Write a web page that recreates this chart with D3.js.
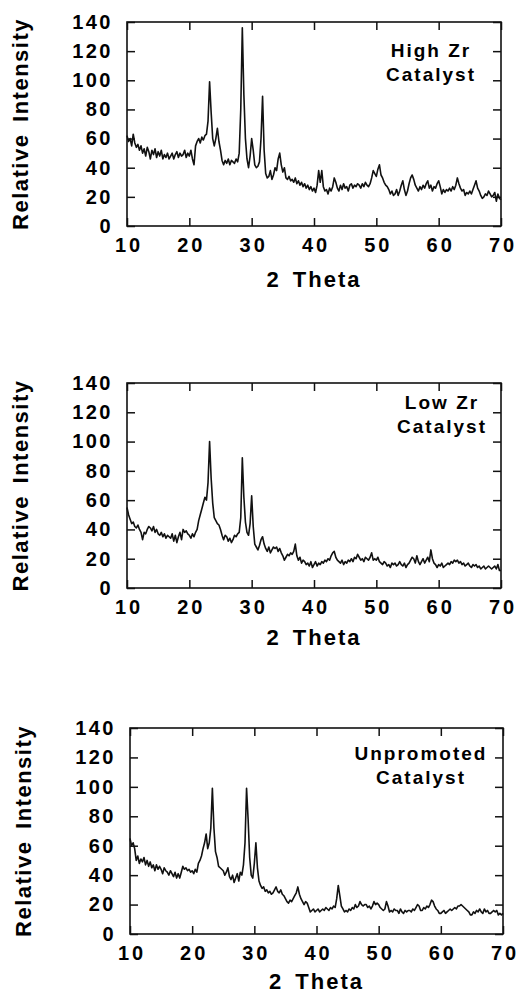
<!DOCTYPE html>
<html>
<head>
<meta charset="utf-8">
<script src="https://cdn.jsdelivr.net/npm/d3@7"></script>
<style>
  body { margin: 0; background: #fff; }
  svg { display: block; }
  text { font-family: "Liberation Sans", Arial, Helvetica, sans-serif; font-weight: bold; fill: #000; }
</style>
</head>
<body>
<svg id="chart" width="518" height="996"></svg>
<script>
// XRD intensities, read every 0.25 deg from 10 to 70 (2 theta)
const highZr = [
  62, 58, 60, 55,  63, 57, 54, 56,  52, 55, 50, 53,  48, 54, 51, 46,
  52, 49, 53, 47,  51, 48, 52, 46,  49, 47, 50, 46,  48, 50, 46, 49,
  51, 47, 50, 48,  49, 52, 47, 50,  48, 52, 46, 42,  55, 58, 60, 57,
  61, 59, 62, 63,  72, 99, 78, 60,  55, 60, 67, 58,  52, 45, 42, 45,
  43, 46, 42, 45,  44, 43, 46, 44,  50, 80, 136, 90, 60, 46, 40, 48,
  60, 52, 42, 40,  41, 44, 60, 89,  52, 36, 33, 34,  38, 32, 35, 40,
  38, 46, 50, 42,  37, 40, 33, 32,  34, 31, 32, 30,  33, 29, 31, 28,
  30, 27, 29, 26,  28, 25, 27, 24,  26, 23, 28, 38,  30, 38, 27, 24,
  25, 22, 26, 24,  27, 33, 30, 26,  24, 28, 25, 29,  26, 27, 24, 28,
  29, 26, 28, 27,  29, 28, 26, 29,  27, 30, 28, 27,  29, 33, 38, 36,
  34, 39, 42, 35,  33, 30, 28, 27,  25, 22, 24, 21,  22, 25, 21, 24,
  28, 31, 25, 21,  24, 29, 33, 35,  32, 28, 26, 24,  27, 25, 28, 26,
  29, 31, 26, 28,  24, 27, 26, 29,  31, 27, 22, 25,  23, 25, 24, 26,
  24, 27, 25, 28,  33, 29, 26, 24,  25, 21, 23, 22,  24, 22, 25, 28,
  31, 26, 24, 21,  19, 20, 22, 21,  24, 22, 20, 21,  23, 17, 22, 19,
  18
];
const lowZr = [
  55, 50, 47, 44,  45, 42, 41, 43,  40, 38, 33, 38,  37, 40, 42, 41,
  39, 42, 38, 40,  37, 36, 38, 35,  37, 34, 36, 35,  34, 37, 32, 36,
  31, 35, 38, 33,  40, 38, 39, 37,  36, 34, 37, 35,  38, 40, 46, 50,
  54, 58, 62, 60,  72, 100, 75, 58, 48, 46, 44, 43,  40, 36, 33, 36,
  35, 32, 34, 31,  33, 36, 35, 37,  38, 48, 89, 62,  45, 38, 36, 44,
  63, 42, 30, 28,  26, 29, 33, 35,  30, 27, 25, 28,  24, 26, 28, 27,
  28, 25, 27, 24,  22, 19, 21, 23,  22, 24, 23, 25,  30, 22, 19, 21,
  17, 19, 18, 16,  17, 15, 18, 14,  16, 18, 15, 17,  16, 18, 17, 19,
  18, 20, 19, 22,  24, 25, 21, 19,  18, 17, 19, 16,  18, 17, 19, 18,
  20, 18, 21, 20,  23, 21, 19, 20,  18, 21, 20, 19,  21, 24, 19, 20,
  19, 21, 18, 17,  16, 18, 17, 15,  16, 14, 17, 16,  17, 15, 16, 18,
  16, 15, 17, 14,  16, 17, 19, 21,  20, 17, 22, 18,  16, 18, 20, 17,
  19, 21, 18, 26,  20, 17, 16, 14,  16, 15, 17, 14,  15, 16, 17, 16,
  18, 17, 19, 18,  19, 17, 18, 16,  17, 15, 16, 17,  15, 14, 16, 15,
  16, 14, 15, 13,  14, 15, 13, 14,  15, 14, 13, 14,  15, 13, 16, 12,
  12
];
const unpromoted = [
  65, 60, 62, 58,  50, 53, 48, 51,  49, 52, 47, 50,  46, 49, 45, 47,
  43, 47, 44, 46,  44, 41, 45, 43,  42, 40, 43, 41,  39, 42, 38, 41,
  38, 42, 46, 44,  45, 43, 44, 42,  43, 41, 44, 42,  48, 50, 53, 58,
  62, 68, 58, 62,  72, 99, 72, 56,  52, 46, 45, 44,  43, 40, 42, 45,
  39, 37, 40, 35,  38, 41, 36, 42,  40, 47, 62, 99,  78, 52, 40, 38,
  48, 62, 45, 36,  33, 31, 32, 29,  30, 28, 29, 27,  28, 30, 32, 29,
  28, 30, 27, 26,  24, 22, 21, 23,  22, 24, 26, 28,  32, 27, 24, 22,
  20, 22, 21, 18,  15, 16, 17, 15,  16, 17, 15, 16,  17, 16, 18, 17,
  16, 18, 17, 19,  18, 24, 33, 26,  19, 17, 15, 16,  15, 17, 16, 18,
  17, 20, 18, 19,  22, 20, 19, 20,  20, 18, 19, 17,  19, 22, 20, 21,
  20, 18, 17, 16,  17, 22, 19, 15,  16, 15, 17, 16,  16, 14, 17, 15,
  14, 16, 15, 16,  16, 15, 17, 16,  18, 20, 19, 16,  16, 18, 17, 19,
  18, 20, 23, 22,  19, 17, 16, 14,  14, 15, 16, 14,  15, 16, 17, 16,
  17, 18, 17, 19,  19, 20, 19, 18,  17, 16, 15, 13,  13, 15, 14, 16,
  15, 17, 15, 14,  17, 15, 16, 14,  14, 15, 16, 15,  16, 13, 14, 13,
  14
];
const xTicks = [10, 20, 30, 40, 50, 60, 70];
const yTicks = [0, 20, 40, 60, 80, 100, 120, 140];
const panelLabels = [["High Zr", "Catalyst"], ["Low Zr", "Catalyst"], ["Unpromoted", "Catalyst"]];
const xTitle = "2 Theta";
const yTitle = "Relative Intensity";

const theta = d3.range(highZr.length).map(i => 10 + i * 0.25);

const panels = [
  { data: highZr, label: panelLabels[0], left: 127, right: 501, top: 22, bottom: 226, labelX: 431, labelY: 57, titleY: 287, yLabX: 28 },
  { data: lowZr, label: panelLabels[1], left: 127, right: 501, top: 383, bottom: 588, labelX: 442, labelY: 409, titleY: 645, yLabX: 28 },
  { data: unpromoted, label: panelLabels[2], left: 130, right: 503, top: 728, bottom: 934, labelX: 421, labelY: 760, titleY: 989, yLabX: 31 }
];

const svg = d3.select('#chart');

panels.forEach(p => {
  const x = d3.scaleLinear().domain([10, 70]).range([p.left, p.right]);
  const y = d3.scaleLinear().domain([0, 140]).range([p.bottom, p.top]);
  const g = svg.append('g');

  // inward ticks on all four sides
  const yl = g.append('g').attr('transform', `translate(${p.left},0)`)
    .call(d3.axisLeft(y).tickValues(yTicks).tickSizeInner(-8).tickSizeOuter(0).tickPadding(14));
  const yr = g.append('g').attr('transform', `translate(${p.right},0)`)
    .call(d3.axisRight(y).tickValues(yTicks).tickSizeInner(-8).tickSizeOuter(0).tickFormat(''));
  const xb = g.append('g').attr('transform', `translate(0,${p.bottom})`)
    .call(d3.axisBottom(x).tickValues(xTicks).tickSizeInner(-8).tickSizeOuter(0));
  const xt = g.append('g').attr('transform', `translate(0,${p.top})`)
    .call(d3.axisTop(x).tickValues(xTicks).tickSizeInner(-8).tickSizeOuter(0).tickFormat(''));

  [yl, yr, xb, xt].forEach(a => {
    a.select('.domain').remove();
    a.selectAll('.tick line').attr('stroke', '#111').attr('stroke-width', 1.5);
  });

  yl.selectAll('.tick text')
    .attr('fill', '#000').style('font-size', '20px').style('letter-spacing', '2.5px');
  xb.selectAll('.tick text')
    .attr('fill', '#000').attr('y', 26).attr('dy', 0).attr('dx', 1.5)
    .style('font-size', '20px').style('letter-spacing', '3px');

  g.append('rect')
    .attr('x', p.left).attr('y', p.top)
    .attr('width', p.right - p.left).attr('height', p.bottom - p.top)
    .attr('fill', 'none').attr('stroke', '#111').attr('stroke-width', 1.6);

  const line = d3.line().x((d, i) => x(theta[i])).y(d => y(d));
  g.append('path').datum(p.data)
    .attr('d', line).attr('fill', 'none')
    .attr('stroke', '#111').attr('stroke-width', 1.6).attr('stroke-linejoin', 'round');

  // sample label, two centred lines
  p.label.forEach((t, i) => {
    g.append('text')
      .attr('x', p.labelX).attr('y', p.labelY + i * 24)
      .attr('text-anchor', 'middle')
      .style('font-size', '19px').style('letter-spacing', '2px')
      .text(t);
  });

  g.append('text')
    .attr('x', (p.left + p.right) / 2).attr('y', p.titleY)
    .attr('text-anchor', 'middle')
    .style('font-size', '22px').style('letter-spacing', '2px').style('word-spacing', '4px')
    .text(xTitle);

  g.append('text')
    .attr('transform', `translate(${p.yLabX},${(p.top + p.bottom) / 2}) rotate(-90)`)
    .attr('text-anchor', 'middle')
    .style('font-size', '22px').style('letter-spacing', '1.5px').style('word-spacing', '4px')
    .text(yTitle);
});
</script>
</body>
</html>
